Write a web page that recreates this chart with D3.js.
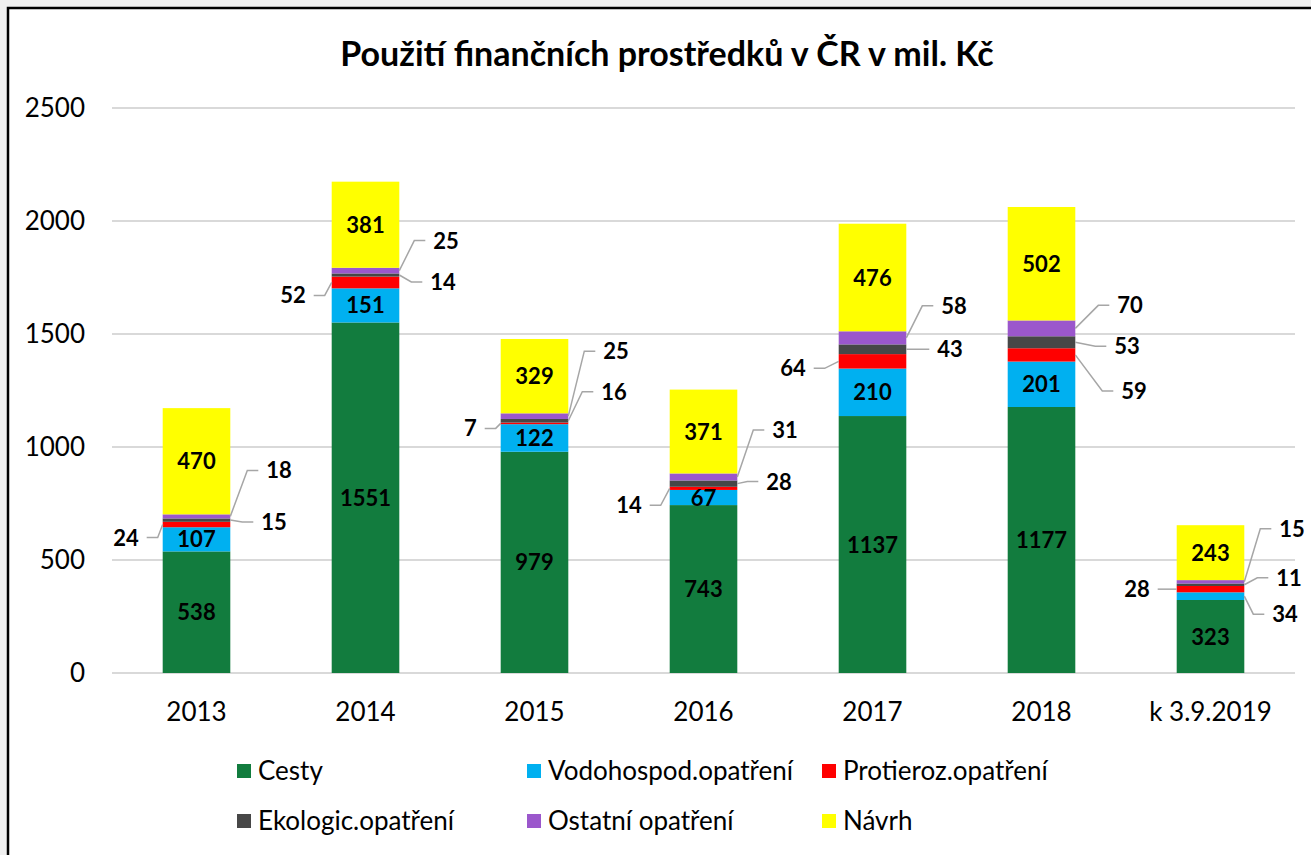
<!DOCTYPE html>
<html lang="cs">
<head>
<meta charset="utf-8">
<title>Použití finančních prostředků v ČR v mil. Kč</title>
<script src="https://cdn.jsdelivr.net/npm/d3@7"></script>
<style>
    body { margin: 0; background: #f0f0f0; }
    svg { display: block; font-family: Lato, "Open Sans", sans-serif; }
    .grid line { stroke: #d9d9d9; stroke-width: 2px; }
    .axis text { font-size: 26px; fill: #000; }
    .val { font-size: 22px; font-weight: bold; fill: #000; }
    .leader { stroke: #a6a6a6; stroke-width: 1.5px; fill: none; }
    .legend text { font-size: 26px; fill: #000; }
</style>
</head>
<body>
<script>
    // DATA
    const years = ["2013", "2014", "2015", "2016", "2017", "2018", "k 3.9.2019"];
    const seriesNames = ["Cesty", "Vodohospod.opatření", "Protieroz.opatření",
                         "Ekologic.opatření", "Ostatní opatření", "Návrh"];
    const cesty     = [538, 1551, 979, 743, 1137, 1177, 323];
    const vodohosp  = [107, 151, 122, 67, 210, 201, 34];
    const protieroz = [24, 52, 7, 14, 64, 59, 28];
    const ekolog    = [15, 14, 16, 28, 43, 53, 11];
    const ostatni   = [18, 25, 25, 31, 58, 70, 15];
    const navrh     = [470, 381, 329, 371, 476, 502, 243];
    const yTicks = [0, 500, 1000, 1500, 2000, 2500];

    const colors = ["#127c3e", "#00b0f0", "#ff0000", "#474747", "#9b57cc", "#ffff00"];

    // labels drawn outside the bar with a leader line: [bar, series, side, dx, dy]
    const callouts = [
        [0, 2, -1, 5, 13], [0, 3, 1, 12, 2], [0, 4, 1, 17, -46],
        [1, 2, -1, 7, 13], [1, 3, 1, 12, 7], [1, 4, 1, 15, -30],
        [2, 2, -1, 5, 5], [2, 3, 1, 14, -29], [2, 4, 1, 16, -65],
        [3, 2, -1, 9, 17], [3, 3, 1, 10, -2], [3, 4, 1, 16, -47],
        [4, 2, -1, 14, 7], [4, 3, 1, 12, 0], [4, 4, 1, 16, -32],
        [5, 2, 1, 27, 36], [5, 3, 1, 20, 4], [5, 4, 1, 23, -23],
        [6, 1, 1, 9, 18], [6, 2, -1, 8, 0], [6, 3, 1, 13, -7], [6, 4, 1, 16, -53]
    ];

    const W = 1311, H = 855;
    const svg = d3.select("body").append("svg").attr("width", W).attr("height", H);

    // frame
    svg.append("rect")
       .attr("x", 8).attr("y", 8).attr("width", W + 10).attr("height", H + 10)
       .attr("fill", "#fff").attr("stroke", "#000").attr("stroke-width", 2.5);

    svg.append("text")
       .attr("x", 667).attr("y", 66)
       .attr("text-anchor", "middle")
       .style("font-size", "34px").style("font-weight", "bold")
       .text("Použití finančních prostředků v ČR v mil. Kč");

    const x = d3.scaleBand().domain(years).range([112, 1295]).paddingInner(0.6).paddingOuter(0.3);
    const y = d3.scaleLinear().domain([0, 2500]).range([673, 108]);

    const rows = years.map((yr, i) => {
        const obj = {year: yr};
        [cesty, vodohosp, protieroz, ekolog, ostatni, navrh].forEach((s, k) => obj[seriesNames[k]] = s[i]);
        return obj;
    });
    const stacked = d3.stack().keys(seriesNames)(rows);

    // grid
    svg.append("g").attr("class", "grid")
       .selectAll("line").data(yTicks).join("line")
       .attr("x1", 112).attr("x2", 1295)
       .attr("y1", d => y(d)).attr("y2", d => y(d));

    // y axis labels
    svg.append("g").attr("class", "axis")
       .selectAll("text").data(yTicks).join("text")
       .attr("x", 85).attr("y", d => y(d) + 9)
       .attr("text-anchor", "end")
       .text(d => d);

    // x axis labels
    svg.append("g").attr("class", "axis")
       .selectAll("text").data(years).join("text")
       .attr("x", d => x(d) + x.bandwidth() / 2).attr("y", 721)
       .attr("text-anchor", "middle")
       .text(d => d);

    // bars
    svg.append("g").selectAll("g").data(stacked).join("g")
       .attr("fill", (d, i) => colors[i])
       .selectAll("rect").data(d => d).join("rect")
       .attr("x", d => x(d.data.year))
       .attr("width", x.bandwidth())
       .attr("y", d => y(d[1]))
       .attr("height", d => y(d[0]) - y(d[1]));

    // inside labels
    const outside = new Set(callouts.map(c => c[0] + "-" + c[1]));
    const inside = svg.append("g");
    stacked.forEach((s, k) => {
        s.forEach((d, i) => {
            if (outside.has(i + "-" + k)) return;
            inside.append("text").attr("class", "val")
                .attr("x", x(d.data.year) + x.bandwidth() / 2)
                .attr("y", (y(d[0]) + y(d[1])) / 2 + 8)
                .attr("text-anchor", "middle")
                .text(d[1] - d[0]);
        });
    });

    // callouts
    const co = svg.append("g");
    callouts.forEach(([i, k, side, dx, dy]) => {
        const d = stacked[k][i];
        const x0 = side > 0 ? x(d.data.year) + x.bandwidth() : x(d.data.year);
        const y0 = (y(d[0]) + y(d[1])) / 2;
        const ex = x0 + side * dx, ey = y0 + dy;
        const hx = ex + side * 11;
        co.append("path").attr("class", "leader")
          .attr("d", `M${x0},${y0}L${ex},${ey}L${hx},${ey}`);
        co.append("text").attr("class", "val")
          .attr("x", hx + side * 8).attr("y", ey + 8)
          .attr("text-anchor", side > 0 ? "start" : "end")
          .text(d[1] - d[0]);
    });

    // legend
    const legendPos = [[237, 771], [527, 771], [822, 771], [237, 821], [527, 821], [822, 821]];
    const lg = svg.append("g").attr("class", "legend")
        .selectAll("g").data(seriesNames).join("g")
        .attr("transform", (d, i) => `translate(${legendPos[i][0]},${legendPos[i][1]})`);
    lg.append("rect").attr("x", 0).attr("y", -7).attr("width", 14).attr("height", 14)
      .attr("fill", (d, i) => colors[i]);
    lg.append("text").attr("x", 21).attr("y", 9).text(d => d);
</script>
</body>
</html>
